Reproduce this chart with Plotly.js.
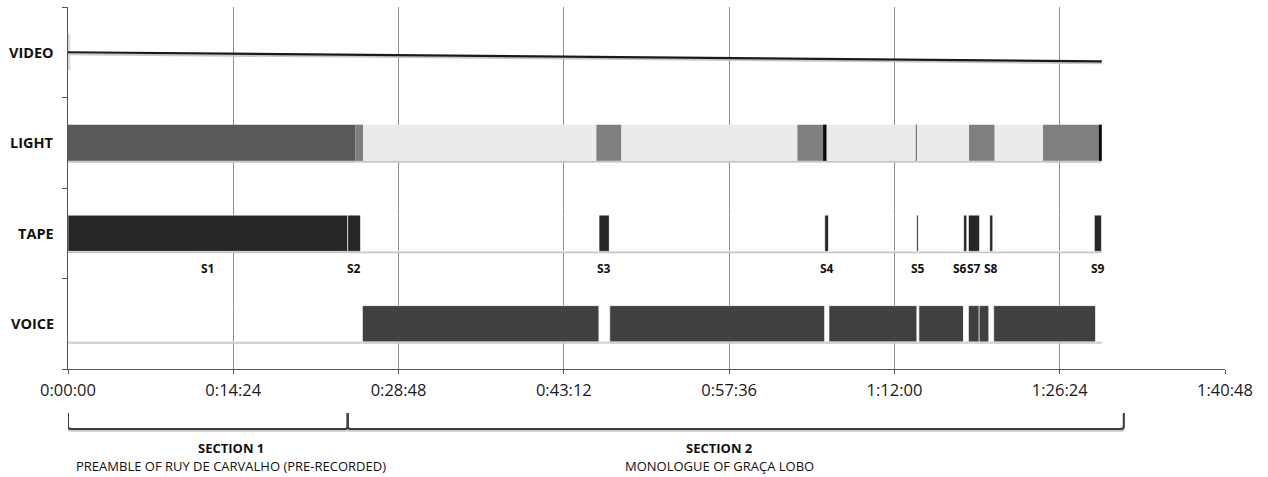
<!DOCTYPE html>
<html><head><meta charset="utf-8">
<script src="https://cdn.plot.ly/plotly-3.0.1.min.js"></script>
<style>html,body{margin:0;padding:0;background:#fff}#chart{width:1268px;height:477px}</style>
</head><body><div id="chart"></div>
<script>
// ---- data (times in seconds) ----
const rowNames = ['VIDEO', 'LIGHT', 'TAPE', 'VOICE'];
const tickTimes = [0, 864, 1728, 2592, 3456, 4320, 5184, 6048];
const tickLabels = ['0:00:00', '0:14:24', '0:28:48', '0:43:12', '0:57:36', '1:12:00', '1:26:24', '1:40:48'];

const videoTimes = [0, 5404];
const videoLevels = [0.5, 0.6];
const videoEdges = [0, 12];
const videoShades = ['faint'];

const lightEdges = [0, 1502, 1542, 2762, 2893, 3813, 3947, 3966, 4431, 4439, 4710, 4844, 5097, 5388, 5404];
const lightShades = ['dark', 'mid', 'pale', 'mid', 'pale', 'mid', 'black', 'pale', 'mid', 'pale', 'mid', 'pale', 'mid', 'black'];

const tapeEdges = [0, 1462, 1530, 2776, 2830, 3956, 3976, 4437, 4446, 4682, 4699, 4707, 4766, 4818, 4835, 5365, 5402];
const tapeShades = ['cue', 'cue', 'none', 'cue', 'none', 'cue', 'none', 'cue', 'none', 'cue', 'none', 'cue', 'none', 'cue', 'none', 'cue'];
const tapeCueLabels = ['S1', 'S2', 'S3', 'S4', 'S5', 'S6', 'S7', 'S8', 'S9'];

const voiceEdges = [0, 1539, 2776, 2832, 3956, 3978, 4438, 4448, 4681, 4707, 4763, 4814, 4839, 5372, 5404];
const voiceShades = ['gap', 'speech', 'gap', 'speech', 'gap', 'speech', 'gap', 'speech', 'gap', 'speech', 'speech', 'gap', 'speech', 'gap'];

const sectionEdges = [0, 1462, 5519];
const sectionTitles = ['SECTION 1', 'SECTION 2'];
const sectionSubtitles = ['PREAMBLE OF RUY DE CARVALHO (PRE-RECORDED)', 'MONOLOGUE OF GRAÇA LOBO'];
const sectionLabelTimes = [854, 3407];

// ---- styling ----
const shadeColors = {
  faint: '#dcdcdc', dark: '#595959', mid: '#7f7f7f', pale: '#ebebeb', black: '#0a0a0a',
  cue: '#262626', none: 'rgba(255,255,255,0)', speech: '#404040', gap: 'rgba(255,255,255,0)'
};
const FONT = 'Open Sans, Lato, sans-serif';
const BAR_W = 0.4;

function rowTraces(rowIdx, edges, shades, borderW, withShadow) {
  const n = shades.length;
  const base = edges.slice(0, n);
  const len = shades.map((_, i) => edges[i + 1] - edges[i]);
  const y = shades.map(() => rowIdx + 0.5);
  const out = [];
  if (withShadow) {
    out.push({
      type: 'bar', orientation: 'h', y: y, x: len, base: base,
      width: 0.024, offset: BAR_W / 2 - 0.004,
      marker: { color: '#c6c6c6', line: { width: 0 } },
      hoverinfo: 'skip', showlegend: false
    });
  }
  out.push({
    type: 'bar', orientation: 'h', y: y, x: len, base: base,
    width: BAR_W, offset: -BAR_W / 2,
    marker: { color: shades.map(s => shadeColors[s]), line: { color: '#ffffff', width: borderW } },
    hoverinfo: 'skip', showlegend: false
  });
  return out;
}

const traces = [];
traces.push(...rowTraces(0, videoEdges, videoShades, 0, false));
traces.push(...rowTraces(1, lightEdges, lightShades, 0, true));
traces.push(...rowTraces(2, tapeEdges, tapeShades, 0.6, true));
traces.push(...rowTraces(3, voiceEdges, voiceShades, 0.6, true));

// video line with soft shadow
traces.push({
  type: 'scatter', mode: 'lines', x: videoTimes, y: videoLevels.map(v => v + 0.022),
  line: { color: '#c8c8c8', width: 2 }, hoverinfo: 'skip', showlegend: false
});
traces.push({
  type: 'scatter', mode: 'lines', x: videoTimes, y: videoLevels,
  line: { color: '#1a1a1a', width: 2.2 }, hoverinfo: 'skip', showlegend: false
});

// ---- annotations ----
const annotations = [];
rowNames.forEach((name, i) => {
  annotations.push({
    xref: 'paper', yref: 'y', x: 0, y: i + 0.5, xanchor: 'right', yanchor: 'middle', xshift: -12,
    text: name, showarrow: false, font: { family: FONT, size: 14.5, color: '#111', weight: 700 }
  });
});
let cue = 0;
tapeShades.forEach((s, i) => {
  if (s !== 'cue') return;
  const label = tapeCueLabels[cue++];
  annotations.push({
    xref: 'x', yref: 'y', x: (tapeEdges[i] + tapeEdges[i + 1]) / 2, y: 2.884,
    xanchor: 'center', yanchor: 'middle', xshift: label === 'S6' ? -5 : 0,
    text: label, showarrow: false, font: { family: FONT, size: 12, color: '#111', weight: 700 }
  });
});
sectionTitles.forEach((t, i) => {
  annotations.push({
    xref: 'x', yref: 'paper', x: sectionLabelTimes[i], y: -0.218, xanchor: 'center', yanchor: 'middle',
    text: t, showarrow: false, font: { family: FONT, size: 13, color: '#111', weight: 700 }
  });
  annotations.push({
    xref: 'x', yref: 'paper', x: sectionLabelTimes[i], y: -0.268, xanchor: 'center', yanchor: 'middle',
    text: sectionSubtitles[i], showarrow: false, font: { family: FONT, size: 13, color: '#111' }
  });
});

// ---- section braces ----
const shapes = [];
const yTop = -0.1215, yBot = -0.1657, ry = 0.008, rx = 15;
function bracePath(a, b, dy) {
  const t = yTop + dy, bt = yBot + dy;
  return `M ${a},${t} L ${a},${bt + ry} Q ${a},${bt} ${a + rx},${bt} L ${b - rx},${bt} Q ${b},${bt} ${b},${bt + ry} L ${b},${t}`;
}
for (let i = 0; i < sectionEdges.length - 1; i++) {
  shapes.push({ type: 'path', xref: 'x', yref: 'paper', path: bracePath(sectionEdges[i], sectionEdges[i + 1], -0.005),
    line: { color: '#c8c8c8', width: 2 } });
}
for (let i = 0; i < sectionEdges.length - 1; i++) {
  shapes.push({ type: 'path', xref: 'x', yref: 'paper', path: bracePath(sectionEdges[i], sectionEdges[i + 1], 0),
    line: { color: '#3c3c3c', width: 2 } });
}

const layout = {
  width: 1268, height: 477,
  margin: { l: 68, r: 43, t: 7, b: 108 },
  paper_bgcolor: '#ffffff', plot_bgcolor: '#ffffff',
  barmode: 'overlay', showlegend: false,
  xaxis: {
    range: [0, 6048], tickvals: tickTimes, ticktext: tickLabels,
    showgrid: true, gridcolor: '#8f8f8f', gridwidth: 1, zeroline: false,
    showline: true, linecolor: '#555', linewidth: 1,
    ticks: 'outside', ticklen: 4, tickcolor: '#555',
    tickfont: { family: FONT, size: 16.5, color: '#1a1a1a' }, ticklabelstandoff: 2
  },
  yaxis: {
    range: [4, 0], tickvals: [0, 1, 2, 3, 4], showticklabels: false,
    ticks: 'outside', ticklen: 5, tickcolor: '#555',
    showline: true, linecolor: '#555', linewidth: 1, showgrid: false, zeroline: false
  },
  annotations: annotations,
  shapes: shapes
};

Plotly.newPlot('chart', traces, layout, { staticPlot: true, displayModeBar: false });
</script>
</body></html>
